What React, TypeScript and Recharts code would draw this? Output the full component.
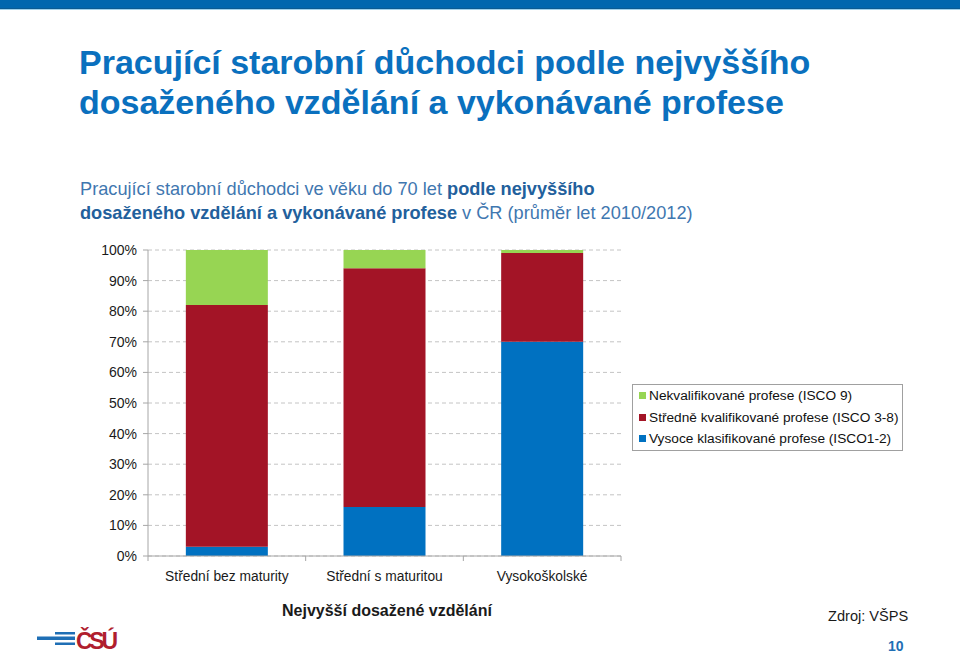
import { Bar, BarChart, CartesianGrid, Legend, XAxis, YAxis } from 'recharts'

const categories = ['Střední bez maturity', 'Střední s maturitou', 'Vysokoškolské']
const vysoce = [3, 16, 70]
const stredne = [79, 78, 29]
const nekval = [18, 6, 1]
const yTicks = [0, 10, 20, 30, 40, 50, 60, 70, 80, 90, 100]

const seriesNames = {
  nekval: 'Nekvalifikované profese (ISCO 9)',
  stredne: 'Středně kvalifikované profese (ISCO 3-8)',
  vysoce: 'Vysoce klasifikované profese (ISCO1-2)',
}

const data = categories.map((name, i) => ({
  name,
  vysoce: vysoce[i],
  stredne: stredne[i],
  nekval: nekval[i],
}))

const BLUE = '#0071c1'
const RED = '#a31426'
const GREEN = '#97d553'
const AXIS = '#a6a6a6'

const W = 960
const H = 653
const M = { top: 250, right: 339, bottom: 57, left: 100 }
const Y_AXIS_W = 48
const X_AXIS_H = 40
const PLOT_LEFT = M.left + Y_AXIS_W
const PLOT_W = W - M.right - PLOT_LEFT
const PLOT_BOTTOM = H - M.bottom - X_AXIS_H
const BAND = PLOT_W / categories.length

const XTick = (props: any) => {
  const { x, payload, index } = props
  const half = BAND / 2
  return (
    <g>
      <line x1={x - half} x2={x - half} y1={PLOT_BOTTOM} y2={PLOT_BOTTOM + 5} stroke={AXIS} />
      {index === categories.length - 1 && (
        <line x1={x + half} x2={x + half} y1={PLOT_BOTTOM} y2={PLOT_BOTTOM + 5} stroke={AXIS} />
      )}
      <text x={x} y={PLOT_BOTTOM + 25} textAnchor='middle' fontSize={13.8} fill='#1a1a1a'>
        {payload.value}
      </text>
    </g>
  )
}

const LegendBox = () => {
  const items = [
    { key: 'nekval', color: GREEN },
    { key: 'stredne', color: RED },
    { key: 'vysoce', color: BLUE },
  ] as const
  return (
    <div
      style={{
        border: '1px solid #a0a0a0',
        padding: '0 4px 0 6px',
        background: '#fff',
        width: 271,
        boxSizing: 'border-box',
      }}
    >
      {items.map((it) => (
        <div
          key={it.key}
          style={{
            display: 'flex',
            alignItems: 'center',
            height: 21.5,
            fontSize: 13.7,
            color: '#111',
            whiteSpace: 'nowrap',
          }}
        >
          <span style={{ width: 7, height: 7, background: it.color, marginRight: 3, flexShrink: 0 }} />
          {seriesNames[it.key]}
        </div>
      ))}
    </div>
  )
}

const Logo = () => (
  <svg width={100} height={36} style={{ position: 'absolute', left: 30, top: 617 }}>
    <rect x={25} y={15} width={20} height={2.5} fill='#1f6fb5' />
    <rect x={7} y={19.5} width={38} height={3.5} fill='#1f6fb5' />
    <rect x={25} y={25.5} width={20} height={2.5} fill='#1f6fb5' />
    <text x={46} y={32} fontSize={23} fontWeight='bold' fill='#b01e2e' textLength={42}>
      ČSÚ
    </text>
  </svg>
)

export default function App() {
  return (
    <div
      style={{
        position: 'absolute',
        left: 0,
        top: 0,
        width: W,
        height: H,
        background: '#fff',
        fontFamily: '"Liberation Sans", Arial, sans-serif',
        overflow: 'hidden',
      }}
    >
      <div style={{ position: 'absolute', left: 0, top: 0, width: W, height: 8, background: '#0066ae' }} />
      <div style={{ position: 'absolute', left: 0, top: 8, width: W, height: 1, background: '#0a5a92' }} />
      <div style={{ position: 'absolute', left: 0, top: 9, width: W, height: 1, background: '#9fd0ea' }} />

      <div
        style={{
          position: 'absolute',
          left: 79,
          top: 42,
          fontSize: 34,
          lineHeight: '40px',
          fontWeight: 'bold',
          color: '#0a70be',
          whiteSpace: 'nowrap',
        }}
      >
        Pracující starobní důchodci podle nejvyššího
        <br />
        dosaženého vzdělání a vykonávané profese
      </div>

      <div
        style={{
          position: 'absolute',
          left: 80,
          top: 177,
          fontSize: 18.2,
          lineHeight: '24px',
          color: '#3f77b0',
          whiteSpace: 'nowrap',
        }}
      >
        Pracující starobní důchodci ve věku do 70 let{' '}
        <b style={{ color: '#22609c' }}>podle nejvyššího</b>
        <br />
        <b style={{ color: '#22609c' }}>dosaženého vzdělání a vykonávané profese</b> v ČR (průměr let
        2010/2012)
      </div>

      <div style={{ position: 'absolute', left: 0, top: 0 }}>
        <BarChart width={W} height={H} data={data} margin={M} barCategoryGap='24%'>
          <CartesianGrid vertical={false} stroke='#c4c4c4' strokeDasharray='4 3' />
          <XAxis
            dataKey='name'
            height={X_AXIS_H}
            axisLine={{ stroke: AXIS }}
            tickLine={false}
            tick={<XTick />}
            interval={0}
          />
          <XAxis
            xAxisId='top'
            dataKey='name'
            orientation='top'
            height={0}
            axisLine={{ stroke: '#c8c8c8' }}
            tickLine={false}
            tick={false}
          />
          <YAxis
            width={Y_AXIS_W}
            domain={[0, 100]}
            ticks={yTicks}
            interval={0}
            tickFormatter={(v) => `${v}%`}
            axisLine={{ stroke: AXIS }}
            tickLine={{ stroke: AXIS }}
            tickSize={5}
            tickMargin={6}
            tick={{ fontSize: 14, fill: '#1a1a1a' }}
          />
          <YAxis
            yAxisId='right'
            orientation='right'
            width={0}
            domain={[0, 100]}
            axisLine={{ stroke: '#c8c8c8' }}
            tickLine={false}
            tick={false}
          />
          <Legend
            layout='vertical'
            align='center'
            verticalAlign='middle'
            content={<LegendBox />}
            wrapperStyle={{ left: 632, top: 384, width: 271 }}
          />
          <Bar dataKey='vysoce' name={seriesNames.vysoce} stackId='a' fill={BLUE} isAnimationActive={false} />
          <Bar dataKey='stredne' name={seriesNames.stredne} stackId='a' fill={RED} isAnimationActive={false} />
          <Bar dataKey='nekval' name={seriesNames.nekval} stackId='a' fill={GREEN} isAnimationActive={false} />
        </BarChart>
      </div>

      <div
        style={{
          position: 'absolute',
          left: 282,
          top: 602,
          fontSize: 16,
          fontWeight: 'bold',
          color: '#1a1a1a',
          whiteSpace: 'nowrap',
        }}
      >
        Nejvyšší dosažené vzdělání
      </div>

      <Logo />

      <div
        style={{ position: 'absolute', left: 828, top: 608, fontSize: 14.6, color: '#1a1a1a', whiteSpace: 'nowrap' }}
      >
        Zdroj: VŠPS
      </div>
      <div
        style={{
          position: 'absolute',
          left: 888,
          top: 638,
          fontSize: 14,
          fontWeight: 'bold',
          color: '#1f6fb5',
        }}
      >
        10
      </div>
    </div>
  )
}
